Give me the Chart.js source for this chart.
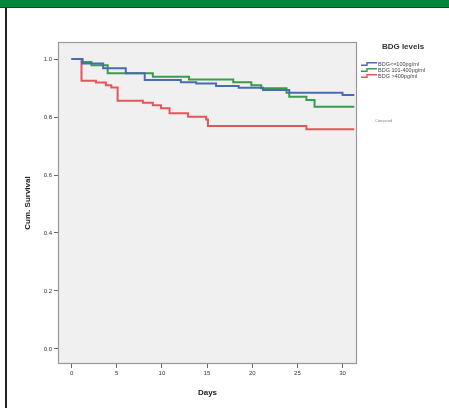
<!DOCTYPE html>
<html>
<head>
<meta charset="utf-8">
<script src="https://cdn.jsdelivr.net/npm/chart.js@4/dist/chart.umd.min.js"></script>
<style>
  html, body { margin: 0; padding: 0; background: #fff; }
  #wrap { position: relative; width: 449px; height: 408px; overflow: hidden; }
  #head { position: absolute; left: 0; top: 0; width: 449px; height: 7px; background: #00873b; border-bottom: 1px solid #1f3a25; }
  #edge { position: absolute; left: 5px; top: 8px; width: 2px; height: 400px; background: #222; }
  canvas { position: absolute; left: 0; top: 0; }
</style>
</head>
<body>
<div id="wrap">
  <canvas id="kmChart" width="449" height="408"></canvas>
  <div id="head"></div>
  <div id="edge"></div>
</div>
<script>
const groupLabels = ["BDG<=100pg/ml", "BDG 101-400pg/ml", "BDG >400pg/ml"];
const groupColors = ["#4a6bb3", "#3a9c4b", "#e4565c"];

// Kaplan-Meier steps: day of drop and survival after it
const lowDays = [0, 1.2, 3.5, 6.0, 8.1, 12.1, 13.8, 16.0, 18.5, 21.2, 24.1, 30.0, 31.3];
const lowSurv = [1.0, 0.985, 0.968, 0.951, 0.928, 0.920, 0.916, 0.907, 0.901, 0.893, 0.884, 0.876, 0.876];

const midDays = [0, 1.2, 2.2, 4.0, 9.0, 13.0, 17.9, 19.9, 21.0, 23.8, 24.1, 26.0, 26.9, 31.3];
const midSurv = [1.0, 0.99, 0.979, 0.951, 0.939, 0.930, 0.920, 0.910, 0.899, 0.884, 0.870, 0.859, 0.836, 0.836];

const highDays = [0, 1.1, 2.7, 3.8, 4.4, 5.1, 7.9, 9.0, 9.9, 10.85, 12.9, 14.9, 15.1, 26.0, 31.3];
const highSurv = [1.0, 0.925, 0.919, 0.910, 0.902, 0.856, 0.849, 0.841, 0.830, 0.813, 0.801, 0.792, 0.769, 0.758, 0.758];

const xTicks = [0, 5, 10, 15, 20, 25, 30];
const yTicks = [0, 0.2, 0.4, 0.6, 0.8, 1.0];

function toPoints(days, surv) {
  return days.map((d, i) => ({ x: d, y: surv[i] }));
}

const plotFrame = {
  id: "plotFrame",
  beforeDraw(chart) {
    const { ctx, chartArea: a } = chart;
    ctx.save();
    ctx.fillStyle = "#f0f0f0";
    ctx.fillRect(a.left, a.top, a.right - a.left, a.bottom - a.top);
    ctx.restore();
  },
  afterDatasetsDraw(chart) {
    const { ctx, chartArea: a } = chart;
    ctx.save();
    ctx.strokeStyle = "#999";
    ctx.lineWidth = 1.2;
    ctx.strokeRect(a.left + 0.5, a.top + 0.5, a.right - a.left - 1, a.bottom - a.top - 1);
    ctx.restore();
  },
  afterDraw(chart) {
    const ctx = chart.ctx;
    ctx.save();
    ctx.fillStyle = "#333";
    ctx.font = "bold 8px 'Liberation Sans', Arial, sans-serif";
    ctx.textAlign = "center";
    ctx.textBaseline = "middle";
    ctx.fillText("BDG levels", 403, 47);

    ctx.font = "5.5px 'Liberation Sans', Arial, sans-serif";
    ctx.textAlign = "left";
    chart.data.datasets.forEach((ds, i) => {
      const y = 64 + i * 6;
      ctx.strokeStyle = ds.borderColor;
      ctx.lineWidth = 1.4;
      ctx.beginPath();
      ctx.moveTo(361, y + 1.2);
      ctx.lineTo(367, y + 1.2);
      ctx.lineTo(367, y - 1.2);
      ctx.lineTo(377, y - 1.2);
      ctx.stroke();
      ctx.fillStyle = "#444";
      ctx.fillText(ds.label, 378, y);
    });

    ctx.fillStyle = "#888";
    ctx.font = "4px 'Liberation Sans', Arial, sans-serif";
    ctx.fillText("Censored", 375, 121);
    ctx.restore();
  }
};

new Chart(document.getElementById("kmChart"), {
  type: "line",
  data: {
    datasets: [
      { label: groupLabels[0], data: toPoints(lowDays, lowSurv), borderColor: groupColors[0] },
      { label: groupLabels[1], data: toPoints(midDays, midSurv), borderColor: groupColors[1] },
      { label: groupLabels[2], data: toPoints(highDays, highSurv), borderColor: groupColors[2] },
    ].map((d) => Object.assign(d, { stepped: true, pointRadius: 0, borderWidth: 2, fill: false })),
  },
  options: {
    responsive: false,
    animation: false,
    layout: { padding: { left: 20, right: 92, top: 42, bottom: 6 } },
    plugins: { legend: { display: false }, tooltip: { enabled: false } },
    scales: {
      x: {
        type: "linear",
        min: -1.5,
        max: 31.6,
        afterBuildTicks: (s) => { s.ticks = xTicks.map((v) => ({ value: v })); },
        afterFit: (s) => { s.height = 38; },
        grid: { display: true, drawOnChartArea: false, tickLength: 4, color: "#666" },
        border: { display: false },
        ticks: { font: { size: 6, family: "'Liberation Sans', Arial, sans-serif" }, color: "#333", padding: 2, maxRotation: 0 },
        title: { display: true, text: "Days", color: "#222", padding: { top: 0, bottom: 4 },
                 font: { size: 8, weight: "bold", family: "'Liberation Sans', Arial, sans-serif" } },
      },
      y: {
        min: -0.052,
        max: 1.059,
        afterBuildTicks: (s) => { s.ticks = yTicks.map((v) => ({ value: v })); },
        afterFit: (s) => { s.width = 38; },
        grid: { display: true, drawOnChartArea: false, tickLength: 4, color: "#666" },
        border: { display: false },
        ticks: { font: { size: 6, family: "'Liberation Sans', Arial, sans-serif" }, color: "#333", padding: 2,
                 callback: (v) => Number(v).toFixed(1) },
        title: { display: true, text: "Cum. Survival", color: "#222", padding: { top: 3, bottom: 0 },
                 font: { size: 8, weight: "bold", family: "'Liberation Sans', Arial, sans-serif" } },
      },
    },
  },
  plugins: [plotFrame],
});
</script>
</body>
</html>
